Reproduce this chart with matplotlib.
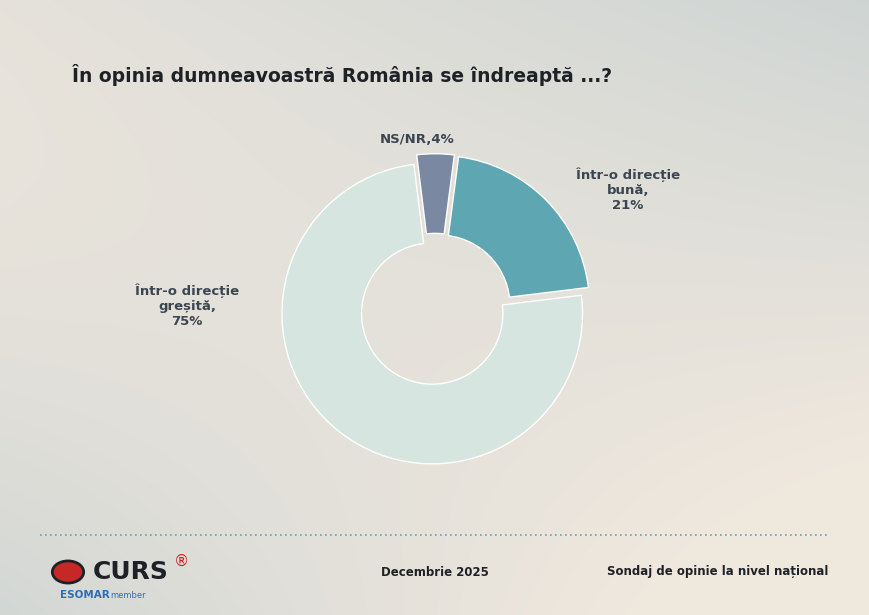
import numpy as np
import matplotlib.pyplot as plt

labels = ['NS/NR,4%', 'Într-o direcție\nbună,\n21%', 'Într-o direcție\ngreșită,\n75%']
values = [4, 21, 75]
colors = ['#7b88a1', '#5fa6b3', '#d6e5e0']

fig = plt.figure(figsize=(8.7, 6.15), dpi=100)

# background gradient
bg = fig.add_axes([0, 0, 1, 1], zorder=0)
yy, xx = np.mgrid[0:1:200j, 0:1:300j]
warm = np.array([0.94, 0.91, 0.87])
cool = np.array([0.72, 0.78, 0.80])
w = np.clip(0.55 * (1 - xx) * yy + 0.6 * xx * (1 - yy) + 0.3 * (1 - xx) * (1 - yy) ** 3, 0, 1)
w = np.clip(w * 1.3 - 0.2, 0, 1)
img = warm * (1 - w[..., None]) + cool * w[..., None]
bg.imshow(img, aspect='auto', extent=[0, 1, 0, 1], origin='upper')
bg.set_xlim(0, 1)
bg.set_ylim(0, 1)
bg.axis('off')

aw = 0.38
ah = aw * 870 / 615
ax = fig.add_axes([435 / 870 - aw / 2, 1 - 310 / 615 - ah / 2, aw, ah], zorder=1)
wedges, _ = ax.pie(values, colors=colors, startangle=97, counterclock=False,
                   explode=[0.04, 0.04, 0.03],
                   wedgeprops=dict(width=0.53, edgecolor='white', linewidth=1))
ax.set_aspect('equal')
ax.set_xlim(-1.1, 1.1)
ax.set_ylim(-1.1, 1.1)

tk = dict(fontsize=9.5, fontweight='bold', color='#3c4650', ha='center', va='center')
fig.text(417 / 870, 1 - 139 / 615, labels[0], **tk)
fig.text(628 / 870, 1 - 190 / 615, labels[1], **tk)
fig.text(187 / 870, 1 - 306 / 615, labels[2], **tk)

fig.text(72 / 870, 1 - 75 / 615, 'În opinia dumneavoastră România se îndreaptă ...?',
         fontsize=13.5, fontweight='bold', color='#1e2227', va='center')

bg.plot([40 / 870, 828 / 870], [1 - 535 / 615] * 2, color='#5fa6b3', linestyle=(0, (1, 2)), lw=1.2)

fig.text(93 / 870, 1 - 572 / 615, 'CURS', fontsize=18, fontweight='bold', color='#1e2227', va='center')
fig.text(174 / 870, 1 - 561 / 615, '®', fontsize=11, color='#c62828', va='center')
fig.text(60 / 870, 1 - 595 / 615, 'ESOMAR', fontsize=7.5, fontweight='bold', color='#2a6fb5', va='center')
fig.text(110 / 870, 1 - 595 / 615, 'member', fontsize=6, color='#2a6fb5', va='center')
bg.add_patch(plt.Circle((68 / 870, 1 - 572 / 615), 0.018, transform=bg.transAxes,
                        facecolor='#c62828', edgecolor='#1e2227', lw=2))
fig.text(435 / 870, 1 - 572 / 615, 'Decembrie 2025', fontsize=8.5, fontweight='bold',
         color='#1e2227', ha='center', va='center')
fig.text(828 / 870, 1 - 572 / 615, 'Sondaj de opinie la nivel național', fontsize=8.5,
         fontweight='bold', color='#1e2227', ha='right', va='center')

fig.savefig('out.png', dpi=100)
